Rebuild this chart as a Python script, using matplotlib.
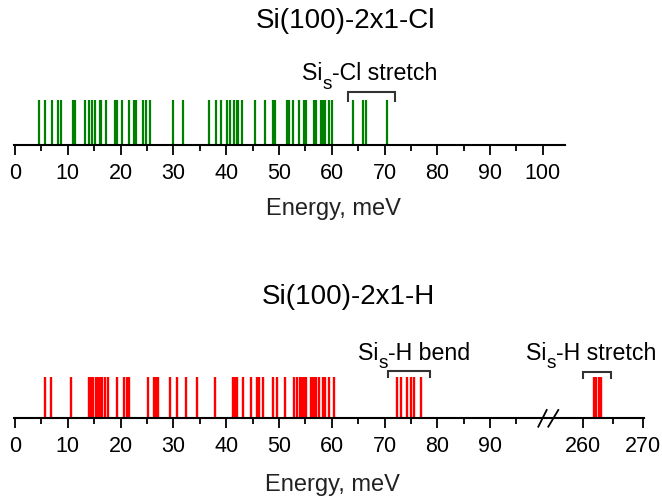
import matplotlib
matplotlib.use("Agg")
import matplotlib.pyplot as plt
from matplotlib.lines import Line2D
from matplotlib.transforms import offset_copy

plt.rcParams['font.family'] = ['Liberation Sans', 'DejaVu Sans']

# vibrational energies, meV
cl_energies = [4.5, 5.6, 7.0, 8.1, 8.7, 11.0, 11.4, 13.3, 14.1, 14.5, 15.2, 16.0, 16.3,
               17.2, 18.9, 19.4, 20.3, 21.5, 22.5, 22.9, 24.3, 24.8, 25.6, 29.9, 31.9,
               36.8, 38.0, 39.0, 40.1, 40.7, 41.5, 42.0, 42.3, 43.0, 45.5, 47.4, 48.9,
               49.2, 51.6, 51.9, 52.7, 53.8, 54.7, 55.2, 56.7, 57.1, 57.9, 58.3, 58.7,
               59.5, 60.0, 64.1, 66.0, 66.5, 70.4]
h_energies = [5.7, 6.8, 10.6, 14.1, 14.4, 14.8, 15.3, 15.8, 16.1, 16.5, 17.0, 17.6,
              19.4, 20.6, 21.2, 21.5, 25.2, 26.3, 26.7, 27.0, 29.4, 30.7, 32.3, 34.5,
              37.9, 41.3, 41.7, 42.1, 43.2, 44.7, 45.9, 46.3, 47.0, 48.9, 49.7, 51.2,
              52.8, 53.5, 53.9, 54.3, 54.7, 55.1, 56.0, 56.4, 56.8, 57.1, 57.6, 58.4,
              58.8, 59.5, 60.4]
h_bend = [72.3, 73.2, 74.3, 75.0, 75.5, 76.9]
h_stretch = [261.7, 262.1, 262.6, 263.0]

cl_ticks = list(range(0, 101, 10))
h_ticks_left = list(range(0, 91, 10))
h_ticks_right = [260, 270]

W, H = 662, 497
fig = plt.figure(figsize=(W / 100, H / 100), dpi=100)
renderer = fig.canvas.get_renderer()


def px(x0, y0, x1, y1):
    # pixel box (top-left origin) -> figure rect
    return [x0 / W, 1 - y1 / H, (x1 - x0) / W, (y1 - y0) / H]


def style(ax, major, minor):
    for s in ['top', 'right', 'left']:
        ax.spines[s].set_visible(False)
    ax.spines['bottom'].set_linewidth(1.5)
    ax.set_yticks([])
    ax.set_xticks(major)
    ax.set_xticks(minor, minor=True)
    ax.tick_params(axis='x', which='major', length=7.5, width=1.3, labelsize=15.5, pad=5.5)
    ax.tick_params(axis='x', which='minor', length=4, width=1.3)
    ax.set_ylim(0, 1.5)
    ax.patch.set_alpha(0)


def bracket(ax, x0, x1, ytop, ybot):
    ax.plot([x0, x0, x1, x1], [ybot, ytop, ytop, ybot], color='#333333', lw=1.5,
            clip_on=False, solid_joinstyle='miter')


def sub_label(ax, x, y, rest, fs=16.7, drop=10):
    # "Si" + lowered "s" + rest, centred on x
    parts = [('Si', fs, 0), ('s', fs * 0.82, -drop), (rest, fs, 0)]
    texts = [ax.text(x, y, s, fontsize=f, ha='left', va='baseline', clip_on=False)
             for s, f, _ in parts]
    widths = [t.get_window_extent(renderer).width for t in texts]
    cur = -sum(widths) / 2
    for t, w, (_, _, dy) in zip(texts, widths, parts):
        t.set_transform(offset_copy(ax.transData, fig=fig, x=cur, y=dy, units='dots'))
        cur += w


# top panel
ax1 = fig.add_axes(px(14, 144.7 - 67, 565, 144.7))
ax1.set_xlim(-0.2, 104.2)
style(ax1, cl_ticks, [t + 5 for t in cl_ticks if t < 100])
ax1.vlines(cl_energies, 0, 1, color='#008000', lw=1.6)
bracket(ax1, 63.0, 72.0, 1.17, 0.98)
sub_label(ax1, 67.2, 1.45, '-Cl stretch', drop=9)

# bottom panel, broken axis
ax2 = fig.add_axes(px(14, 417.7 - 61.5, 546, 417.7))
ax2.set_xlim(-0.2, 100.6)
style(ax2, h_ticks_left, [t + 5 for t in h_ticks_left])
ax2.vlines(h_energies + h_bend, 0, 1, color='#ff0000', lw=1.7)
bracket(ax2, 70.7, 78.7, 1.146, 0.985)
sub_label(ax2, 75.6, 1.40, '-H bend', drop=8)

ax3 = fig.add_axes(px(546, 417.7 - 61.5, 644, 417.7))
ax3.set_xlim(253.7, 270.2)
style(ax3, h_ticks_right, [265])
ax3.vlines(h_stretch, 0, 1, color='#ff0000', lw=1.7)
bracket(ax3, 260.0, 264.6, 1.12, 0.98)
sub_label(ax3, 261.3, 1.40, '-H stretch', drop=8)

# break marks
for xa, xb in [(538.3, 546.7), (548.3, 558.3)]:
    fig.add_artist(Line2D([xa / W, xb / W], [1 - 426.7 / H, 1 - 410 / H],
                          color='black', lw=1.3))

fig.text(345.5 / W, 1 - 21 / H, 'Si(100)-2x1-Cl', ha='center', va='center', fontsize=20)
fig.text(333 / W, 1 - 209 / H, 'Energy, meV', ha='center', va='center', fontsize=17,
         color='#222222')
fig.text(348 / W, 1 - 297 / H, 'Si(100)-2x1-H', ha='center', va='center', fontsize=20)
fig.text(332 / W, 1 - 485 / H, 'Energy, meV', ha='center', va='center', fontsize=17,
         color='#222222')

fig.savefig('out.png', dpi=100)
